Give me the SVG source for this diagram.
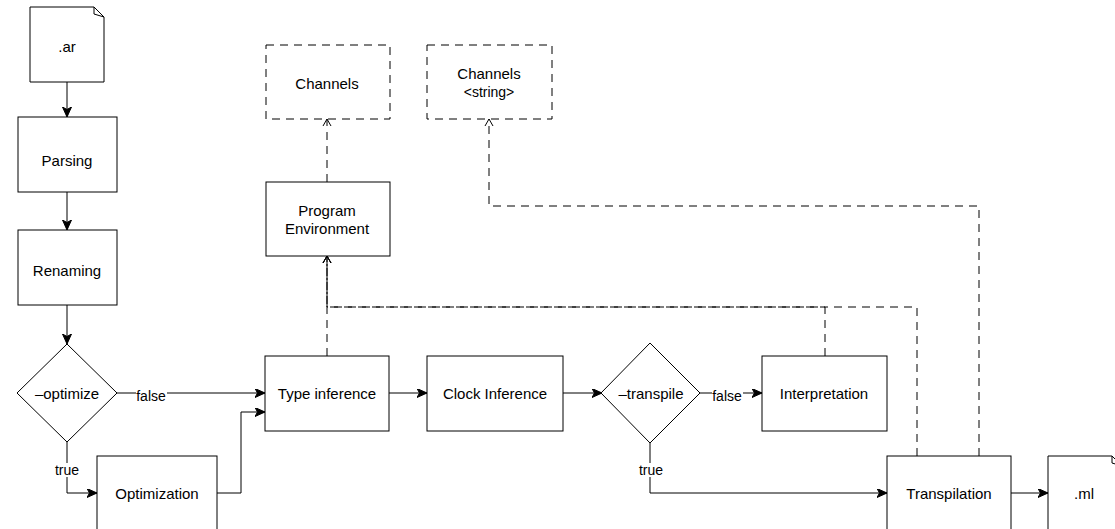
<svg xmlns="http://www.w3.org/2000/svg" width="1115" height="529" viewBox="0 0 1115 529">
<style>
.box{fill:#fff;stroke:#000;stroke-width:1}
.dbox{fill:#fff;stroke:#000;stroke-width:1;stroke-dasharray:8 6}
.t{font-family:"Liberation Sans",Arial,sans-serif;font-size:15px;fill:#000;text-anchor:middle;dominant-baseline:central}
.lbl{font-family:"Liberation Sans",Arial,sans-serif;font-size:14px;fill:#000;text-anchor:middle;dominant-baseline:central}
.e{fill:none;stroke:#000;stroke-width:1}
.d{fill:none;stroke:#000;stroke-width:1;stroke-dasharray:8 6}
</style>
<defs>
<marker id="a" markerUnits="userSpaceOnUse" markerWidth="12" markerHeight="10" refX="10" refY="4.5" orient="auto">
<path d="M0,0 L10,4.5 L0,9 L2.5,4.5 Z" fill="#000" stroke="#000" stroke-width="1"/>
</marker>
<marker id="o" markerUnits="userSpaceOnUse" markerWidth="12" markerHeight="12" refX="8" refY="5" orient="auto">
<path d="M1,1 L8,5 L1,9" fill="none" stroke="#000" stroke-width="1"/>
</marker>
</defs>
<g id="connectors">
<path class="e" d="M67,82 V117" marker-end="url(#a)"/>
<path class="e" d="M67,192 V230" marker-end="url(#a)"/>
<path class="e" d="M67,305 V344" marker-end="url(#a)"/>
<path class="e" d="M117,393 H265" marker-end="url(#a)"/>
<path class="e" d="M67,442 V493 H97" marker-end="url(#a)"/>
<path class="e" d="M217,493 H241 V412 H265" marker-end="url(#a)"/>
<path class="e" d="M389,393 H427" marker-end="url(#a)"/>
<path class="e" d="M563,393 H602" marker-end="url(#a)"/>
<path class="e" d="M700,393 H762" marker-end="url(#a)"/>
<path class="e" d="M650,443 V493 H887" marker-end="url(#a)"/>
<path class="e" d="M1011,493 H1048" marker-end="url(#a)"/>
<path class="d" d="M327,356 V256" marker-end="url(#o)"/>
<path class="d" d="M825,356 V307 H327 V256" marker-end="url(#o)"/>
<path class="d" d="M917,456 V307 H327 V256" marker-end="url(#o)"/>
<path class="d" d="M979,456 V206 H489 V119" marker-end="url(#o)"/>
<path class="d" d="M327,182 V119" marker-end="url(#o)"/>
<rect x="136" y="388" width="31" height="14" fill="#fff"/>
<text class="lbl" x="151" y="396">false</text>
<rect x="55" y="463" width="25" height="14" fill="#fff"/>
<text class="lbl" x="67" y="470">true</text>
<rect x="712" y="388" width="31" height="14" fill="#fff"/>
<text class="lbl" x="727" y="396">false</text>
<rect x="639" y="463" width="25" height="14" fill="#fff"/>
<text class="lbl" x="651" y="470">true</text>
</g>
<g id="ar">
<path class="box" d="M30,7 H94 L104,17 V82 H30 Z"/>
<path class="box" d="M94,7 L104,17 L94,14 Z" fill="#fff"/>
<text class="t" x="67" y="46">.ar</text>
</g>
<g id="parsing">
<rect class="box" x="18" y="117" width="99" height="75"/>
<text class="t" x="67" y="160">Parsing</text>
</g>
<g id="renaming">
<rect class="box" x="18" y="230" width="99" height="75"/>
<text class="t" x="67" y="270">Renaming</text>
</g>
<g id="optimize">
<path class="box" d="M67,344 L117,393 L67,442 L17,393 Z"/>
<text class="t" x="67" y="393">–optimize</text>
</g>
<g id="optimization">
<rect class="box" x="97" y="456" width="120" height="80"/>
<text class="t" x="157" y="493">Optimization</text>
</g>
<g id="typeinference">
<rect class="box" x="265" y="356" width="124" height="75"/>
<text class="t" x="327" y="393">Type inference</text>
</g>
<g id="clockinference">
<rect class="box" x="427" y="356" width="136" height="75"/>
<text class="t" x="495" y="393">Clock Inference</text>
</g>
<g id="transpile">
<path class="box" d="M650,343 L700,393 L650,443 L601,393 Z"/>
<text class="t" x="651" y="393">–transpile</text>
</g>
<g id="interpretation">
<rect class="box" x="762" y="356" width="125" height="75"/>
<text class="t" x="824" y="393">Interpretation</text>
</g>
<g id="transpilation">
<rect class="box" x="887" y="456" width="124" height="80"/>
<text class="t" x="949" y="493">Transpilation</text>
</g>
<g id="ml">
<path class="box" d="M1048,456 H1112 L1122,466 V540 H1048 Z"/>
<path class="box" d="M1112,456 L1122,466 L1112,463 Z"/>
<text class="t" x="1084" y="493">.ml</text>
</g>
<g id="progenv">
<rect class="box" x="266" y="182" width="124" height="74"/>
<text class="t" x="327" y="210">Program</text>
<text class="t" x="327" y="228">Environment</text>
</g>
<g id="channels">
<rect class="dbox" x="266" y="45" width="124" height="74"/>
<text class="t" x="327" y="83">Channels</text>
</g>
<g id="channelsstring">
<rect class="dbox" x="427" y="45" width="125" height="74"/>
<text class="t" x="489" y="73">Channels</text>
<text class="t" x="489" y="92" style="font-size:14px">&lt;string&gt;</text>
</g>
</svg>
